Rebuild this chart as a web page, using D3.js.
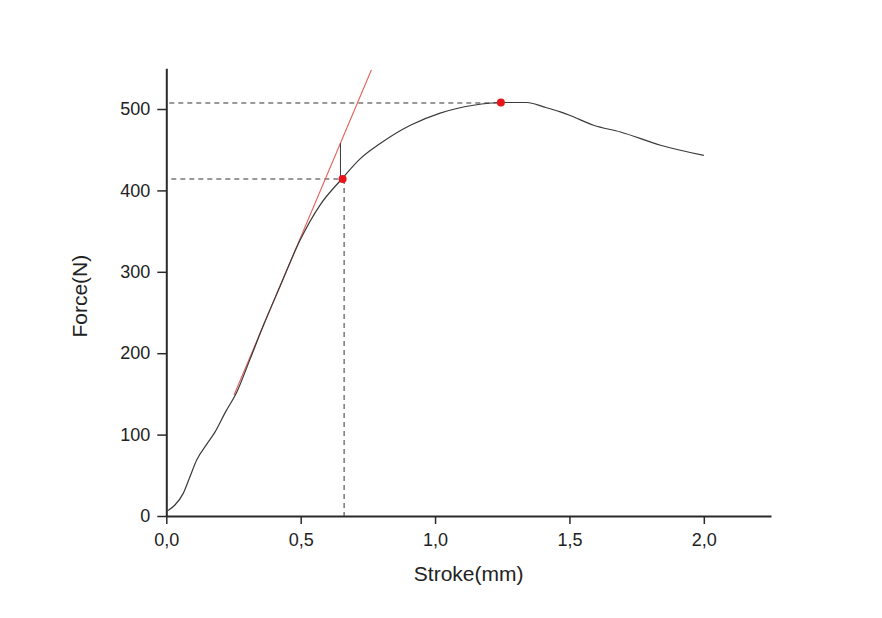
<!DOCTYPE html>
<html>
<head>
<meta charset="utf-8">
<script src="https://cdn.jsdelivr.net/npm/d3@7"></script>
<style>
  body { margin: 0; background: #fff; }
  svg { display: block; }
  .axis path, .axis line { stroke: #2a2a2a; }
  .axis text { font-family: "Liberation Sans", Arial, sans-serif; fill: #222; }
</style>
</head>
<body>
<svg id="chart" width="882" height="618"></svg>
<script>
// measured force-stroke curve
const stroke = [0, 0.032, 0.063, 0.088, 0.113, 0.150, 0.181, 0.219, 0.262, 0.312, 0.361, 0.423, 0.498,
  0.572, 0.653, 0.722, 0.796, 0.908, 1.019, 1.143, 1.245, 1.342, 1.404, 1.466, 1.503, 1.59, 1.69, 1.839, 2.0];
const force = [5.5, 13.5, 27.8, 48.3, 68.8, 88, 103, 127, 152, 193, 234, 282, 339,
  382, 414, 439, 457.6, 480, 495, 504.6, 508, 508, 502.6, 496.5, 492, 480, 471.8, 455.5, 443];

// tangent (red) line end points
const tangentX = [0.252, 0.763];
const tangentY = [148.6, 548];

// marked points: yield point and maximum
const markX = [0.656, 1.245];
const markY = [414, 508];

const xMajor = [0, 0.5, 1.0, 1.5, 2.0];
const xMinor = [0.25, 0.75, 1.25, 1.75, 2.25];
const yMajor = [0, 100, 200, 300, 400, 500];
const yMinor = [50, 150, 250, 350, 450, 550];

const svg = d3.select("#chart");
const x = d3.scaleLinear().domain([0, 2.25]).range([166.3, 771]);
const y = d3.scaleLinear().domain([0, 550]).range([516, 68.3]);
const fmt = d => d3.format(".1f")(d).replace(".", ",");

// axes
const gx = svg.append("g").attr("class", "axis").attr("transform", `translate(0,${y(0)})`);
gx.call(d3.axisBottom(x).tickValues(xMinor).tickSize(5).tickFormat(""));
gx.call(d3.axisBottom(x).tickValues(xMajor).tickSize(8).tickSizeOuter(0).tickPadding(9).tickFormat(fmt));
gx.selectAll("text").style("font-size", "18px");

const gy = svg.append("g").attr("class", "axis").attr("transform", `translate(${x(0)},0)`);
gy.call(d3.axisLeft(y).tickValues(yMinor).tickSize(5).tickFormat(""));
gy.call(d3.axisLeft(y).tickValues(yMajor).tickSize(9).tickSizeOuter(0).tickPadding(7).tickFormat(d3.format("d")));
gy.selectAll("text").style("font-size", "18px");

svg.selectAll(".axis path.domain").attr("stroke-width", 2);
svg.selectAll(".axis line").attr("stroke-width", 1.5);

// axis titles
svg.append("text")
  .attr("x", (x(0) + x(2.25)) / 2)
  .attr("y", 581)
  .attr("text-anchor", "middle")
  .style("font-family", "Liberation Sans, Arial, sans-serif")
  .style("font-size", "21px")
  .attr("fill", "#222")
  .text("Stroke(mm)");

svg.append("text")
  .attr("transform", `translate(87,${y(275) + 4}) rotate(-90)`)
  .attr("text-anchor", "middle")
  .style("font-family", "Liberation Sans, Arial, sans-serif")
  .style("font-size", "21px")
  .attr("fill", "#222")
  .text("Force(N)");

// dashed guide lines
const dash = svg.append("g")
  .attr("stroke", "#333")
  .attr("stroke-width", 1)
  .attr("stroke-dasharray", "5,4")
  .attr("fill", "none");
dash.append("line").attr("x1", x(0) + 5).attr("x2", x(markX[0])).attr("y1", y(markY[0])).attr("y2", y(markY[0]));
dash.append("line").attr("x1", x(markX[0]) + 1.5).attr("x2", x(markX[0]) + 1.5).attr("y1", y(markY[0])).attr("y2", y(0));
dash.append("line").attr("x1", x(0) + 3).attr("x2", x(markX[1])).attr("y1", y(markY[1]) + 0.5).attr("y2", y(markY[1]) + 0.5);

// tangent line
svg.append("line")
  .attr("x1", x(tangentX[0])).attr("y1", y(tangentY[0]))
  .attr("x2", x(tangentX[1])).attr("y2", y(tangentY[1]))
  .attr("stroke", "#e5605a")
  .attr("stroke-width", 1.1);

// curve
const pts = stroke.map((s, i) => [s, force[i]]);
svg.append("path")
  .datum(pts)
  .attr("fill", "none")
  .attr("stroke", "#3a3a3a")
  .attr("stroke-width", 1.2)
  .attr("d", d3.line().x(d => x(d[0])).y(d => y(d[1])).curve(d3.curveMonotoneX));

// short vertical from curve up to tangent
const slope = (tangentY[1] - tangentY[0]) / (tangentX[1] - tangentX[0]);
const vx = markX[0] - 0.008;
svg.append("line")
  .attr("x1", x(vx)).attr("x2", x(vx))
  .attr("y1", y(markY[0]))
  .attr("y2", y(tangentY[0] + slope * (vx - tangentX[0])))
  .attr("stroke", "#3a3a3a")
  .attr("stroke-width", 1);

// marker dots
svg.selectAll("circle.mark")
  .data(markX.map((m, i) => [m, markY[i]]))
  .join("circle")
  .attr("class", "mark")
  .attr("cx", d => x(d[0]))
  .attr("cy", d => y(d[1]))
  .attr("r", 4)
  .attr("fill", "#e8141c");
</script>
</body>
</html>
